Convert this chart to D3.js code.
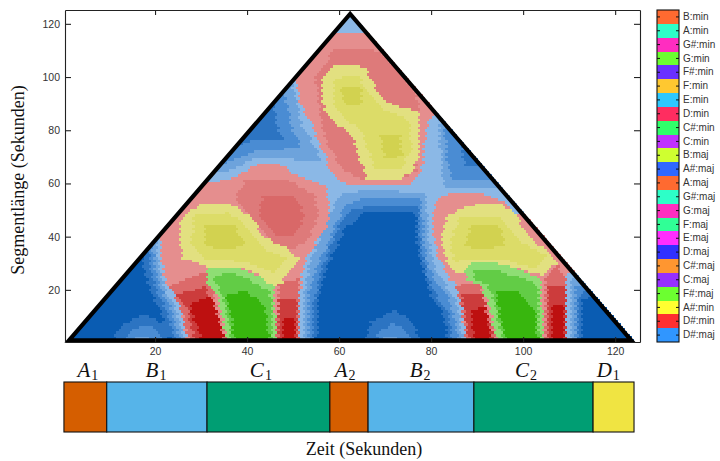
<!DOCTYPE html>
<html>
<head>
<meta charset="utf-8">
<script src="https://cdn.jsdelivr.net/npm/d3@7"></script>
<style>
    body { margin: 0; background: #fff; }
    svg { display: block; }
    .tick text { font-family: "Liberation Sans", sans-serif; font-size: 10.5px; fill: #333; }
    .axis-label { font-family: "Liberation Serif", serif; font-size: 18px; fill: #111; }
</style>
</head>
<body>
<div id="chart"></div>
<script>
// x/y ticks
const timeTicks = [20, 40, 60, 80, 100, 120];
const lengthTicks = [20, 40, 60, 80, 100, 120];

// scape plot outline: [centre time, segment length] in seconds
const scapeOutline = [[1.3, 1], [62.4, 123.7], [123.5, 1]];
const songCells = 123;

// contours, [centre time, segment length], painted in this order
const blueFaint = [[17,38.7],[17.6,27.4],[18.9,19.2],[21.1,12.4],[22.2,6.8],[23.7,-1],[55,-1],[55.4,16.2],[56.7,25.6],[59.1,35],[61.3,43.2],[65.7,49.2],[76.5,49.2],[77.2,35],[78.5,25.6],[79.8,18],[82.8,10.5],[83.9,-1],[113,-1],[113,16.2],[116,18],[100,80],[73,129],[50,129],[25,80],[14,36]];
const patchLeftFaint = [[10,-1],[13,7],[18,11],[22,7],[23.5,-1]];
const patchCentreFaint = [[65,-1],[67,8],[72,12.5],[76,8],[78,-1]];
const blueMid = [[16,40.6],[18.3,38.7],[18.9,27.4],[20.2,19.9],[22.2,13.5],[23.3,7.9],[24.8,-1],[54.1,-1],[54.6,16.2],[55.9,25.6],[58,36],[60.2,44.4],[62.8,50],[66.7,52],[77.2,51],[77.8,35],[79.1,26],[80.7,19],[83.7,12],[84.8,-1],[112,-1],[112,16.2],[113,20],[115,20],[96.1,66.9],[87.4,66.9],[86.3,78.2],[86.3,91.4],[72.2,129],[51.5,129],[44.6,100.8],[45.4,91.4],[46.7,82],[47.8,76.3],[40.7,76.3],[34.1,70.7],[25.4,70.7]];
const patchLeftMid = [[13,-1],[15,5],[18,7],[20.5,5],[22,-1]];
const patchCentreMid = [[67.5,-1],[69,5],[72,7.5],[74.5,5],[76.5,-1]];
const blueLight = [[18,40.6],[19.3,38.7],[20,27.4],[21.3,19.9],[23.3,14.3],[24.3,8.6],[25.7,-1],[53.1,-1],[53.3,18],[55,28.2],[57.4,37],[59.3,45],[61.5,52],[66.7,55],[77.8,54],[78.5,38],[79.3,30],[81,23],[84.1,16],[85.4,8],[85.9,-1],[111.1,-1],[111.2,16.2],[111.5,22],[114,22],[98.3,59.4],[92.8,62],[84.6,62],[83.7,66.9],[83,78.2],[83.5,91.4],[72.2,127],[52.6,127],[46.7,102.6],[47.8,95.1],[48.9,87.6],[50,80],[52,73.3],[42.8,72.6],[35.2,67.7],[27.6,66.9]];
const patchLeftLight = [[15,-1],[16,2.5],[18.5,3],[20.5,-1]];
const patchCentreLight = [[69,-1],[70,2.5],[72,3],[74,-1]];
const bluePale = [[19,40.6],[20.2,38.7],[20.9,27.4],[22.2,19.9],[24,15.4],[25.2,9.4],[26.5,-1],[52.4,-1],[52.6,20],[53.7,30.5],[56.3,41],[58.3,50],[60.7,56.5],[66.7,57.5],[78.7,56.5],[79.1,50],[79.3,41],[80.2,32],[81.5,25.6],[84.6,18.8],[86,12.4],[86.9,-1],[110.5,-1],[110.6,16.2],[110.4,24.4],[112.4,27.4],[99.3,57.5],[92.8,58.6],[83,58.6],[82.2,66.9],[82,78.2],[81.5,88.3],[84.1,91.4],[71.1,125.2],[53.7,125.2],[48.3,102.6],[49.8,97],[50.9,89.5],[52,82],[54.1,75.6],[56.3,68.8],[51.5,68.8],[47.2,69.5],[41.7,69.5],[36.3,65],[29.8,64.3]];

const redTop = [[59.6,116.5],[65.7,116.5],[73.3,116.5],[83,88.3],[80.4,86.8],[79.3,83.8],[78.5,74.4],[78,65],[76,60.2],[73.3,59.4],[63,59.4],[60.2,60.5],[58,64.3],[57,70.7],[55.2,76.3],[54.1,82],[52.6,85.7],[51.5,91.4],[50.4,98.9],[48.3,98.9],[55.9,117.7]];
const redTopInner = [[59.1,110.2],[67.8,110.2],[73.3,102.6],[77.2,91.4],[76.7,65],[73.3,61.3],[64.6,62],[61.3,65],[58,72.6],[56.3,82],[55.4,93.2],[54.8,100.8]];
const redLeft = [[42.8,67.7],[47.8,66.9],[50,63.9],[55.2,60.2],[57.4,59.4],[57.4,53.8],[58,51.9],[57.4,44.4],[55.2,38.7],[53.3,33.1],[52.2,27.4],[51.5,19.9],[51.5,-1],[27,-1],[25.9,10.5],[24.8,16.2],[23.7,19.9],[22.6,21.8],[21.7,27.4],[21.5,33.1],[21.1,38.7],[18.9,40.6],[28.7,61.3],[32.4,60.5],[36.7,62],[40.7,65.8]];
const redLeftInner = [[39.6,61.3],[48.3,62],[54.8,55.6],[55.4,48.1],[53.7,40.6],[50.4,35],[45,38.7],[41.7,46.2],[37.4,53.8]];
const redLeftCore = [[43.3,55.6],[50.4,55.6],[52.6,48.1],[50.4,40.6],[46.1,40.6],[42.8,47]];
const redRight = [[83.5,56.4],[90.7,56.4],[94.3,54.5],[96.5,52.6],[97.6,49.2],[101.5,48.1],[111.3,27.4],[109.6,26.3],[109.6,-1],[87.4,-1],[87,10],[86.7,15],[86.3,21.8],[84,23.7],[82.6,29.3],[81.5,33.1],[80.4,42.5],[80.4,50],[81.5,53.8]];

const stemLeftA = [[22.8,21.8],[31.3,27.4],[35.7,-1],[27.6,-1],[26.1,10.5],[24.3,18]];
const stemLeftB = [[25,18],[30.9,21.8],[35.2,-1],[28.7,-1],[27.2,12.4]];
const stemLeftC = [[27.6,14.3],[32.4,18],[35.2,-1],[30.4,-1]];
const stripLeftA = [[46.7,22.6],[51.1,24.4],[51.5,-1],[46.5,-1]];
const stripLeftB = [[47,16.2],[50.9,16.9],[50.9,-1],[47,-1]];
const stripLeftC = [[47.8,9.4],[50.4,9.4],[50.4,-1],[47.8,-1]];
const stemRightA = [[85.2,21.8],[90.7,22.6],[94.3,-1],[87.8,-1],[86.5,16.2]];
const stemRightB = [[86.7,18],[91.1,18.8],[94,-1],[88.5,-1]];
const stemRightC = [[88.9,12.4],[91.7,14.3],[93.3,-1],[89.3,-1]];
const stripRightA = [[104.8,25.6],[107.6,29.3],[109.6,23.7],[109.6,-1],[104.8,-1]];
const stripRightB = [[105.4,21.8],[109.3,21.8],[109.1,-1],[105.4,-1]];
const stripRightC = [[106.3,14.3],[109,14.3],[108.9,-1],[106.3,-1]];

const yellowTop = [[58.5,104.5],[63.5,104.5],[65.7,103.4],[66.5,100.8],[67.8,97],[68.5,94],[70,91.4],[72.8,89.1],[77.2,87.2],[77.6,80],[77.6,70.7],[75.7,64.3],[73.3,62],[66.1,62],[65,66.9],[64.1,70.7],[63,77.4],[61.7,80],[59.6,82],[57.4,86.8],[56.5,89.5],[56.5,99.6],[57.4,102.6]];
const yellowTopInner = [[59.1,99.6],[64.1,100.8],[66.3,94.4],[68.9,88.3],[75,84.6],[75.9,72.6],[73.3,65.8],[67.8,65],[66.3,72.6],[65,80],[61.3,84.6],[58.5,91.4]];
const yellowTopCoreA = [[60.2,95.9],[64.6,97],[65,89.5],[61.3,89.5]];
const yellowTopCoreB = [[68.9,78.2],[73.3,78.2],[73.7,70.7],[70,68.8]];
const yellowLeft = [[30.4,53],[36.3,53],[37.8,51.1],[41.3,47],[42.8,41.7],[45,38.7],[49.3,35],[51.1,32],[49.3,28.2],[47.6,22.9],[45.7,21.4],[42.8,25.6],[39.1,28.2],[31.3,28.9],[26.1,32],[25.4,36.8],[25.4,44.4],[27,49.2]];
const yellowLeftInner = [[28.7,48.1],[36.3,49.2],[40.7,42.5],[43.9,35],[48.3,32],[46.1,26.7],[39.6,30.5],[30.9,32],[27.6,36.8]];
const yellowLeftCore = [[30.9,44.4],[37.4,44.4],[39.6,36.8],[35.2,35],[30.9,36.8]];
const yellowRight = [[87,50.8],[90.7,52.3],[95.7,52.3],[98.3,48.1],[100.9,41.7],[103.7,36.8],[106.5,33.1],[107.6,30.5],[105.9,28.2],[104.1,25.6],[98.7,28.2],[94.3,30.1],[89.1,30.1],[87.4,28.2],[85.7,25.6],[83.7,29.3],[82.6,36.8],[82.6,42.5],[83.5,48.1]];
const yellowRightInner = [[86.3,47],[95,48.1],[99.3,38.7],[104.8,33.1],[102.6,28.2],[95,32],[88.5,32],[85.2,30.5],[84.1,38.7]];
const yellowRightCore = [[88.5,44.4],[95,44.4],[96.1,36.8],[90.7,35],[87.4,36.8]];

const greenLeft = [[31.3,28.9],[37,28.9],[42.2,25.6],[45.7,21.8],[46.5,-1],[35.7,-1],[34.8,8.6],[33.5,18],[31.3,23.7]];
const greenLeftInner = [[32.6,25.6],[37,26.7],[41.7,22.9],[45,19.2],[45.7,-1],[36.7,-1],[35.9,8.6],[34.6,18]];
const greenLeftCore = [[35.4,18],[39.6,19.9],[43.9,14.3],[45,-1],[37.4,-1],[36.7,8.6]];
const greenRight = [[89.1,30.1],[94.3,30.1],[98.7,28.2],[103.7,24.8],[104.6,-1],[94.6,-1],[92.4,16.2],[90.7,21.8],[87.8,23.7],[87.4,26.7]];
const greenRightInner = [[89.6,27.4],[94.3,27.4],[101.5,23.7],[103.3,19.9],[103.7,-1],[95.7,-1],[93.9,14.3],[92.4,21.8],[89.6,23.7]];
const greenRightCore = [[93.9,19.9],[98.3,19.9],[102.6,12.4],[103.3,-1],[96.5,-1],[95,10.5]];

const contourRings = [blueFaint, patchLeftFaint, patchCentreFaint, blueMid, patchLeftMid, patchCentreMid, blueLight, patchLeftLight, patchCentreLight, bluePale,
    redTop, redLeft, redRight, redTopInner, redLeftInner, redLeftCore,
    stemLeftA, stripLeftA, stemRightA, stripRightA, stemLeftB, stripLeftB, stemRightB, stripRightB,
    stemLeftC, stripLeftC, stemRightC, stripRightC,
    yellowTop, yellowLeft, yellowRight, yellowTopInner, yellowLeftInner, yellowRightInner,
    yellowTopCoreA, yellowTopCoreB, yellowLeftCore, yellowRightCore,
    greenLeft, greenRight, greenLeftInner, greenRightInner, greenLeftCore, greenRightCore];
const contourKeys = ["f", "f", "f", "b1", "b1", "b1", "b2", "b2", "b2", "b3",
    "r0", "r0", "r0", "r1", "r1", "r2",
    "s0", "s0", "s0", "s0", "s1", "s1", "s1", "s1",
    "s2", "s2", "s2", "s2",
    "y0", "y0", "y0", "y1", "y1", "y1",
    "y2", "y2", "y2", "y2",
    "g0", "g0", "g1", "g1", "g2", "g2"];

// song segments
const segmentNames = ["A", "B", "C", "A", "B", "C", "D"];
const segmentIndex = ["1", "1", "1", "2", "2", "2", "1"];
const segmentStart = [0.2, 9.5, 31.3, 58.0, 66.3, 89.3, 115.2];
const segmentEnd = [9.5, 31.3, 58.0, 66.3, 89.3, 115.2, 124.1];
const segmentLabelAt = [5.4, 20.2, 43, 61.3, 77.6, 100.6, 118.5];

// colourbar, top to bottom
const chordLabels = ["B:min", "A:min", "G#:min", "G:min", "F#:min", "F:min", "E:min", "D:min", "C#:min", "C:min", "B:maj", "A#:maj", "A:maj", "G#:maj", "G:maj", "F:maj", "E:maj", "D:maj", "C#:maj", "C:maj", "F#:maj", "A#:min", "D#:min", "D#:maj"];
const chordColours = ["#ff6a30", "#2dffc8", "#ff2dc0", "#6cff30", "#6a30ff", "#ffc830", "#2dc8ff", "#ff2d60", "#30ff6a", "#c030ff", "#cfff30", "#3068ff", "#ff6a30", "#2dffc8", "#ff2dc0", "#30ff96", "#ff2dff", "#3030ff", "#ff9630", "#9630ff", "#6cff30", "#ffff30", "#ff3030", "#3096ff"];

const bandColour = d3.scaleOrdinal()
    .domain(["b0", "f", "b1", "b2", "b3", "r0", "r1", "r2", "s0", "s1", "s2", "y0", "y1", "y2", "g0", "g1", "g2"])
    .range(["#0a5cb2", "#2c74c2", "#4a8cd3", "#6da3dc", "#8bb8e6", "#e58e8e", "#de7a7a", "#d96868", "#dc6a6a", "#cc3c3c", "#bd1010", "#e2e080", "#dcdc68", "#d2d250", "#8ede74", "#62cc46", "#38b60e"]);

const segmentColour = d3.scaleOrdinal().domain(["A", "B", "C", "D"]).range(["#d55e00", "#56b4e9", "#009e73", "#f0e442"]);

const width = 720, height = 461;

const svg = d3.select("#chart")
    .append("svg")
        .attr("width", width)
        .attr("height", height);

const x = d3.scaleLinear().domain([0.43, 125.4]).range([65, 640]);
const y = d3.scaleLinear().domain([0.4, 125.2]).range([342, 10]);

// one cell per segment: start s, length len
const cells = [];
d3.range(1, songCells + 1).forEach(len => {
    d3.range(0, songCells - len + 1).forEach(s => {
        const t = scapeOutline[0][0] + s + (len - 1) / 2 + 0.3;
        let key = "b0";
        contourRings.forEach((ring, i) => {
            if (d3.polygonContains(ring, [t, len])) key = contourKeys[i];
        });
        cells.push({ t, len, key });
    });
});

svg.append("g")
    .attr("shape-rendering", "crispEdges")
    .selectAll("rect")
    .data(cells)
    .enter().append("rect")
        .attr("x", d => x(d.t - 0.5))
        .attr("y", d => y(d.len + 0.5))
        .attr("width", d => x(d.t + 0.5) - x(d.t - 0.5) + 0.3)
        .attr("height", d => y(d.len - 0.5) - y(d.len + 0.5) + 0.3)
        .attr("fill", d => bandColour(d.key));

const outline = d3.line().x(d => x(d[0])).y(d => y(d[1])).curve(d3.curveLinearClosed);

svg.append("path")
    .datum(scapeOutline)
    .attr("fill", "none")
    .attr("stroke", "#000")
    .attr("stroke-width", 4.2)
    .attr("stroke-linejoin", "miter")
    .attr("d", outline);

// frame with ticks pointing inwards
const bottomAxis = svg.append("g")
    .attr("transform", `translate(0,${y.range()[0]})`)
    .call(d3.axisBottom(x).tickValues(timeTicks).tickSizeInner(-5).tickSizeOuter(0).tickPadding(6));
const topAxis = svg.append("g")
    .attr("transform", `translate(0,${y.range()[1]})`)
    .call(d3.axisTop(x).tickValues(timeTicks).tickSizeInner(-5).tickSizeOuter(0).tickFormat(""));
const leftAxis = svg.append("g")
    .attr("transform", `translate(${x.range()[0]},0)`)
    .call(d3.axisLeft(y).tickValues(lengthTicks).tickSizeInner(-6).tickSizeOuter(0).tickPadding(5));
const rightAxis = svg.append("g")
    .attr("transform", `translate(${x.range()[1]},0)`)
    .call(d3.axisRight(y).tickValues(lengthTicks).tickSizeInner(-6).tickSizeOuter(0).tickFormat(""));

[bottomAxis, topAxis, leftAxis, rightAxis].forEach(axis => {
    axis.selectAll("path, line").attr("stroke", "#222").attr("stroke-width", 1.1);
});

svg.append("text")
    .attr("class", "axis-label")
    .attr("transform", `translate(24,${(y.range()[0] + y.range()[1]) / 2 + 4}) rotate(-90)`)
    .attr("text-anchor", "middle")
    .text("Segmentlänge (Sekunden)");

// segment bar
const barTop = 382, barHeight = 50;

svg.append("g")
    .selectAll("rect")
    .data(segmentNames)
    .enter().append("rect")
        .attr("x", (d, i) => x(segmentStart[i]))
        .attr("y", barTop)
        .attr("width", (d, i) => x(segmentEnd[i]) - x(segmentStart[i]))
        .attr("height", barHeight)
        .attr("fill", d => segmentColour(d))
        .attr("stroke", "#111")
        .attr("stroke-width", 1.1);

const segmentLabel = svg.append("g")
    .selectAll("text")
    .data(segmentNames)
    .enter().append("text")
        .attr("x", (d, i) => x(segmentLabelAt[i]))
        .attr("y", barTop - 5)
        .attr("text-anchor", "middle")
        .style("font-family", "'Liberation Serif', serif")
        .style("fill", "#111");

segmentLabel.append("tspan")
    .style("font-size", "21px")
    .style("font-style", "italic")
    .text(d => d);

segmentLabel.append("tspan")
    .attr("dy", 3)
    .attr("dx", 1)
    .style("font-size", "14px")
    .text((d, i) => segmentIndex[i]);

svg.append("text")
    .attr("class", "axis-label")
    .attr("x", 364)
    .attr("y", 455)
    .attr("text-anchor", "middle")
    .text("Zeit (Sekunden)");

// colourbar
const chordY = d3.scaleBand().domain(chordLabels).range([10, 342]);
const barLeft = 657, barRight = 679;

svg.append("g")
    .attr("shape-rendering", "crispEdges")
    .selectAll("rect")
    .data(chordLabels)
    .enter().append("rect")
        .attr("x", barLeft)
        .attr("y", d => chordY(d))
        .attr("width", barRight - barLeft)
        .attr("height", chordY.bandwidth() + 0.3)
        .attr("fill", (d, i) => chordColours[i]);

svg.append("rect")
    .attr("x", barLeft)
    .attr("y", 10)
    .attr("width", barRight - barLeft)
    .attr("height", 332)
    .attr("fill", "none")
    .attr("stroke", "#111")
    .attr("stroke-width", 1.1);

const chordAxis = svg.append("g")
    .attr("transform", `translate(${barRight},0)`)
    .call(d3.axisRight(chordY).tickSizeInner(-3).tickSizeOuter(0).tickPadding(4));

chordAxis.select("path").remove();
chordAxis.selectAll("line").attr("stroke", "#111");
chordAxis.selectAll("text").style("font-size", "10px");

svg.append("g")
    .attr("transform", `translate(${barLeft},0)`)
    .call(d3.axisLeft(chordY).tickSizeInner(-3).tickSizeOuter(0).tickFormat(""))
    .call(g => g.select("path").remove())
    .selectAll("line").attr("stroke", "#111");
</script>
</body>
</html>
